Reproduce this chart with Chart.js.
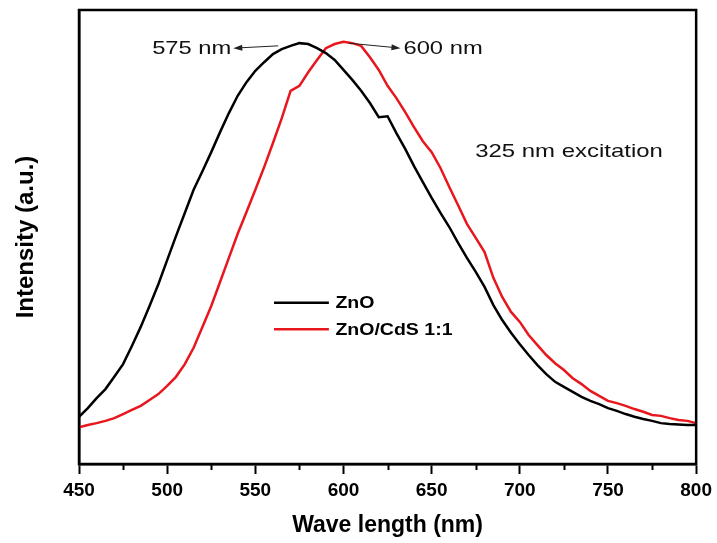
<!DOCTYPE html>
<html>
<head>
<meta charset="utf-8">
<script src="https://cdn.jsdelivr.net/npm/chart.js@4.4.0/dist/chart.umd.min.js"></script>
<style>
  html, body { margin: 0; padding: 0; background: #fff; }
  #wrap { width: 717px; height: 543px; }
</style>
</head>
<body>
<div id="wrap"><canvas id="pl"></canvas></div>
<script>
// wavelength (nm)
const wavelengths = [450,455,460,465,470,475,480,485,490,495,500,505,510,515,520,525,530,535,540,545,
  550,555,560,565,570,575,580,585,590,595,600,605,610,615,620,625,630,635,640,645,650,655,660,665,670,
  675,680,685,690,695,700,705,710,715,720,725,730,735,740,745,750,755,760,765,770,775,780,785,790,795,800];

// ZnO intensity (a.u.)
const znoValues = [10.4,12.3,14.5,16.5,19.2,22.0,26.0,30.2,34.8,39.6,44.9,50.2,55.3,60.4,64.5,68.7,73.1,77.3,81.1,84.1,
  86.6,88.5,90.3,91.4,92.1,92.7,92.5,91.6,90.5,89.0,86.8,84.6,82.2,79.5,76.4,76.6,72.9,69.4,65.6,62.1,58.6,55.3,52.2,48.7,45.4,
  42.3,39.0,35.0,31.7,28.9,26.4,24.0,21.8,19.8,18.1,17.0,15.9,14.8,13.9,13.2,12.3,11.7,11.0,10.4,9.9,9.5,9.0,8.8,8.7,8.6,8.6];

// ZnO/CdS 1:1 intensity (a.u.)
const zncdsValues = [8.1,8.6,9.0,9.5,10.1,11.0,11.9,12.8,14.1,15.4,17.2,19.2,22.0,25.6,30.2,34.8,40.1,45.4,50.7,55.5,
  60.4,65.4,70.7,76.2,82.2,83.3,86.3,89.0,91.6,92.5,93.0,92.7,92.1,89.6,86.8,83.3,80.6,77.5,74.2,71.1,68.7,65.2,61.0,57.0,52.9,
  49.8,46.7,41.0,36.8,33.5,31.3,28.4,26.2,24.0,22.2,20.7,18.9,17.6,16.1,15.0,13.9,13.4,12.8,12.1,11.5,10.8,10.6,10.1,9.7,9.5,9.0];

const seriesNames = ['ZnO', 'ZnO/CdS 1:1'];
const seriesColors = ['#000000', '#e8161d'];
const xTickStep = 50;
const xMinorStep = 25;

const FONT = "'Liberation Sans', Arial, sans-serif";

function pts(ys) {
  return wavelengths.map((x, i) => ({ x, y: ys[i] }));
}

// text drawn slightly wide, like the source figure
function wideText(ctx, text, x, y, align, sx) {
  const w = ctx.measureText(text).width * sx;
  const left = align === 'right' ? x - w : x;
  ctx.save();
  ctx.textAlign = 'left';
  ctx.translate(left, y);
  ctx.scale(sx, 1);
  ctx.fillText(text, 0, 0);
  ctx.restore();
}

// frame, minor ticks, annotations, inset legend
const decoPlugin = {
  id: 'deco',
  afterDraw(chart) {
    const ctx = chart.ctx;
    const a = chart.chartArea;
    const xs = chart.scales.x;
    const ys = chart.scales.y;
    const px = v => xs.getPixelForValue(v);
    const py = v => ys.getPixelForValue(v);

    ctx.save();
    ctx.strokeStyle = '#000';
    ctx.lineWidth = 2.5;
    ctx.strokeRect(a.left, a.top, a.right - a.left, a.bottom - a.top);

    // minor ticks
    ctx.lineWidth = 2;
    for (let v = xs.min + xMinorStep; v < xs.max; v += xTickStep) {
      const x = Math.round(px(v)) + 0.5;
      ctx.beginPath();
      ctx.moveTo(x, a.bottom);
      ctx.lineTo(x, a.bottom + 6);
      ctx.stroke();
    }

    // peak arrows
    const arrow = (x1, y1, x2, y2) => {
      const X1 = px(x1), Y1 = py(y1), X2 = px(x2), Y2 = py(y2);
      const ang = Math.atan2(Y2 - Y1, X2 - X1);
      ctx.strokeStyle = '#222';
      ctx.fillStyle = '#222';
      ctx.lineWidth = 1;
      ctx.beginPath();
      ctx.moveTo(X1, Y1);
      ctx.lineTo(X2 - 7 * Math.cos(ang), Y2 - 7 * Math.sin(ang));
      ctx.stroke();
      ctx.beginPath();
      ctx.moveTo(X2, Y2);
      ctx.lineTo(X2 - 9 * Math.cos(ang) + 3 * Math.sin(ang), Y2 - 9 * Math.sin(ang) - 3 * Math.cos(ang));
      ctx.lineTo(X2 - 9 * Math.cos(ang) - 3 * Math.sin(ang), Y2 - 9 * Math.sin(ang) + 3 * Math.cos(ang));
      ctx.closePath();
      ctx.fill();
    };
    arrow(563, 92.1, 537.5, 91.6);
    arrow(603, 92.7, 632.3, 91.6);

    ctx.fillStyle = '#111';
    ctx.font = '19px ' + FONT;
    ctx.textBaseline = 'middle';
    wideText(ctx, '575 nm', px(536.4), py(91.4), 'right', 1.25);
    wideText(ctx, '600 nm', px(634), py(91.4), 'left', 1.25);
    wideText(ctx, '325 nm excitation', px(674.7), py(68.7), 'left', 1.26);

    // legend
    const legY = [35.5, 29.7];
    chart.data.datasets.forEach((ds, i) => {
      ctx.strokeStyle = ds.borderColor;
      ctx.lineWidth = 2.5;
      ctx.beginPath();
      ctx.moveTo(px(560.6), py(legY[i]));
      ctx.lineTo(px(591.7), py(legY[i]));
      ctx.stroke();
      ctx.fillStyle = '#000';
      ctx.font = 'bold 16px ' + FONT;
      wideText(ctx, ds.label, px(595.4), py(legY[i]) + 1, 'left', 1.22);
    });
    ctx.restore();
  }
};

new Chart(document.getElementById('pl'), {
  type: 'line',
  data: {
    datasets: [
      { label: seriesNames[0], data: pts(znoValues), borderColor: seriesColors[0], borderWidth: 2.5,
        pointRadius: 0, tension: 0, fill: false },
      { label: seriesNames[1], data: pts(zncdsValues), borderColor: seriesColors[1], borderWidth: 2.5,
        pointRadius: 0, tension: 0, fill: false }
    ]
  },
  options: {
    responsive: true,
    maintainAspectRatio: false,
    animation: false,
    devicePixelRatio: 1,
    layout: { padding: { top: 10, right: 18, left: 0, bottom: 0 } },
    plugins: {
      legend: { display: false },
      tooltip: { enabled: false }
    },
    scales: {
      x: {
        type: 'linear',
        min: 450,
        max: 800,
        afterFit(s) { s.height = 79; },
        grid: { display: true, drawOnChartArea: false, drawTicks: true, tickLength: 10,
          tickWidth: 2, tickColor: '#000', color: '#000' },
        border: { display: true, color: '#000', width: 2.5 },
        ticks: { stepSize: xTickStep, padding: 5, color: '#000', maxRotation: 0,
          font: { family: FONT, size: 19, weight: 'bold' } },
        title: { display: true, text: 'Wave length (nm)', color: '#000', padding: { top: 4 },
          font: { family: FONT, size: 23, weight: 'bold' } }
      },
      y: {
        min: 0,
        max: 100,
        afterFit(s) { s.width = 79; },
        grid: { display: false },
        border: { display: true, color: '#000', width: 2.5 },
        ticks: { display: false },
        title: { display: true, text: 'Intensity (a.u.)', color: '#000', padding: { top: 12, bottom: 4 },
          font: { family: FONT, size: 24, weight: 'bold' } }
      }
    }
  },
  plugins: [decoPlugin]
});
</script>
</body>
</html>
